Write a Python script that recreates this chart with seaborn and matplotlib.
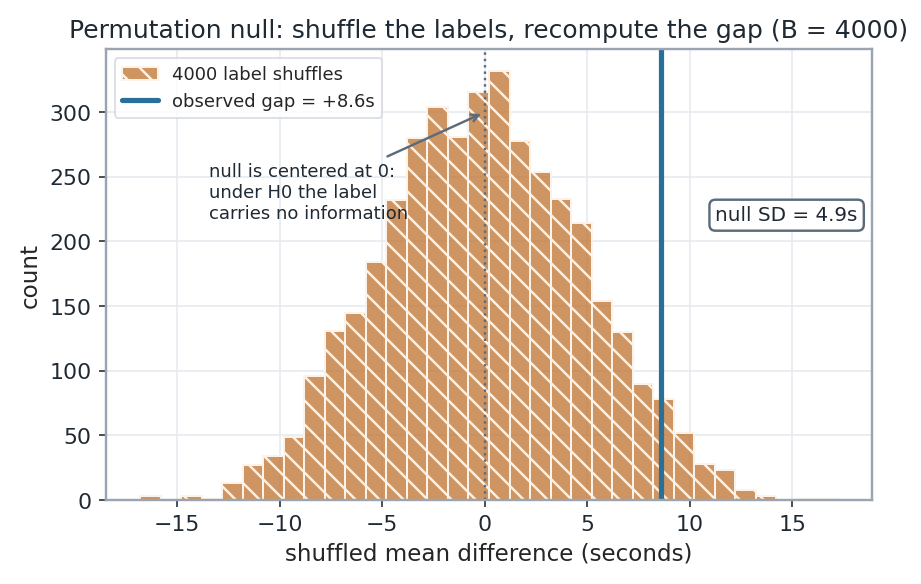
import matplotlib
matplotlib.use("Agg")
import matplotlib.pyplot as plt
import numpy as np
import pandas as pd
import seaborn as sns

# 数据：4000 次标签置换后的均值差直方图
bin_lo = -16.78
bin_hi = 17.20
counts = [3, 0, 3, 1, 13, 27, 34, 49, 96, 131, 145, 184, 232, 280, 304, 281, 316,
          332, 278, 254, 233, 214, 154, 130, 90, 78, 52, 28, 23, 8, 3, 0, 1, 1]
observed_gap = 8.6
null_sd = 4.9
n_shuffles = 4000

edges = np.linspace(bin_lo, bin_hi, len(counts) + 1)
df = pd.DataFrame({"diff": (edges[:-1] + edges[1:]) / 2, "n": counts})

sns.set_style("whitegrid")
plt.rcParams.update({
    "axes.edgecolor": "#9aa5b1",
    "axes.linewidth": 1.2,
    "grid.color": "#e6e9ee",
    "hatch.color": "#f7ebdf",
    "hatch.linewidth": 1.2,
    "xtick.bottom": True,
    "ytick.left": True,
    "xtick.color": "#1f2933",
    "ytick.color": "#1f2933",
})

fig, ax = plt.subplots(figsize=(6.4, 4.06), dpi=144)
fig.subplots_adjust(left=0.1146, right=0.9466, top=0.9144, bottom=0.1438)

# bins 传 list，数组会让 seaborn 的 bins == "auto" 判断出错
sns.histplot(data=df, x="diff", weights="n", bins=edges.tolist(), color="#c2793a", alpha=0.8,
             edgecolor="#fbf3ea", linewidth=1.0, hatch="\\\\",
             label=f"{n_shuffles} label shuffles", ax=ax)

ax.axvline(0, color="#5a6b7b", ls=":", lw=1.2)
ax.axvline(observed_gap, color="#2a6f97", lw=2.6, label=f"observed gap = +{observed_gap}s")

ax.annotate("null is centered at 0:\nunder H0 the label\ncarries no information",
            xy=(0, 300), xytext=(-13.45, 238), ha="left", va="center",
            fontsize=9, color="#1f2933",
            arrowprops=dict(arrowstyle="->", color="#5a6b7b", lw=1.2))

ax.text(0.981, 0.632, f"null SD = {null_sd}s", transform=ax.transAxes,
        ha="right", va="center", fontsize=10, color="#1f2933",
        bbox=dict(boxstyle="round,pad=0.3", facecolor="white", edgecolor="#5a6b7b", lw=1.2))

ax.set_title(f"Permutation null: shuffle the labels, recompute the gap (B = {n_shuffles})",
             fontsize=12.5, color="#1f2933")
ax.set_xlabel("shuffled mean difference (seconds)", fontsize=11.5)
ax.set_ylabel("count", fontsize=11.5)
ax.tick_params(labelsize=11)

# 直方图在前，观测线在后
handles, labels = ax.get_legend_handles_labels()
order = [labels.index(f"{n_shuffles} label shuffles"), labels.index(f"observed gap = +{observed_gap}s")]
ax.legend([handles[i] for i in order], [labels[i] for i in order],
          loc="upper left", fontsize=9, frameon=True, edgecolor="#d5dae0")

plt.savefig("out.png", dpi=144)
plt.close()
